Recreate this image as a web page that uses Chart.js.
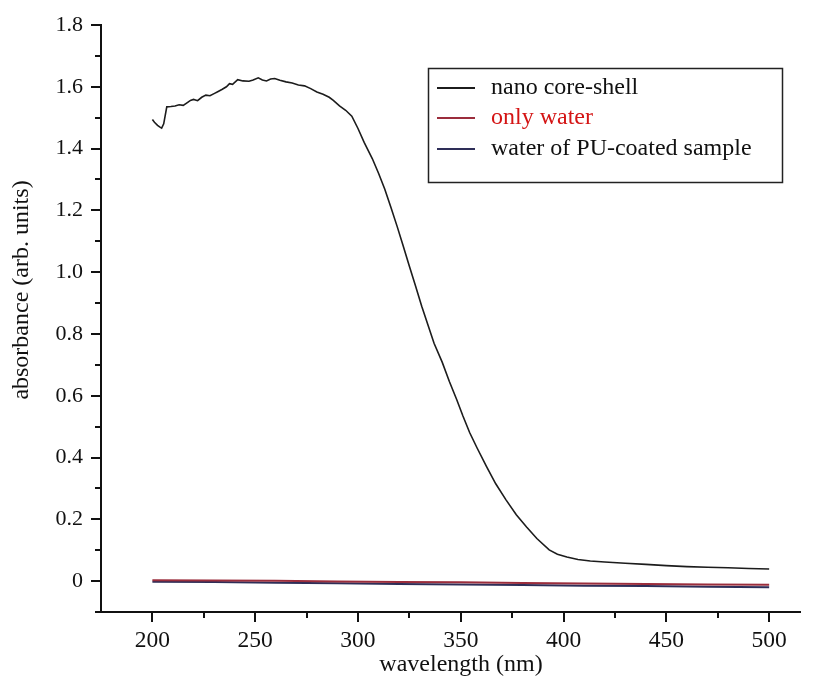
<!DOCTYPE html>
<html>
<head>
<meta charset="utf-8">
<script src="https://cdn.jsdelivr.net/npm/chart.js@4.4.0/dist/chart.umd.min.js"></script>
<style>
  html, body { margin: 0; padding: 0; background: #fff; }
  #wrap { width: 815px; height: 686px; }
</style>
</head>
<body>
<div id="wrap"><canvas id="uvChart"></canvas></div>
<script>
// values
const coreWl = [200, 201, 202.5, 203.5, 204.5, 205.5, 207, 209, 211, 213, 215, 217, 218.5, 220, 222, 224, 226, 228, 230, 232,
  234, 236, 237.5, 239, 241.5, 244, 247, 249, 251.5, 253.5, 255.5, 257.5, 259.5, 262, 265, 268, 271, 274, 277, 280,
  283, 286, 288, 291, 294, 297, 300, 303, 307, 310, 313, 316, 319, 322, 325, 328, 331, 334, 337, 341,
  344.5, 348, 351, 354.3, 358, 362.6, 367, 372, 377, 382, 387, 393, 397, 401.6, 407, 413, 420, 430, 440, 450,
  460, 470, 480, 490, 500];
const coreAbs = [1.494, 1.485, 1.475, 1.47, 1.466, 1.48, 1.535, 1.536, 1.538, 1.542, 1.540, 1.549, 1.556, 1.559, 1.555, 1.566, 1.573, 1.571, 1.578, 1.585,
  1.592, 1.600, 1.610, 1.608, 1.623, 1.619, 1.618, 1.622, 1.629, 1.622, 1.619, 1.625, 1.627, 1.621, 1.616, 1.612, 1.606, 1.603, 1.594, 1.583,
  1.576, 1.566, 1.556, 1.538, 1.524, 1.505, 1.465, 1.42, 1.367, 1.32, 1.269, 1.21, 1.149, 1.085, 1.019, 0.955, 0.89, 0.83, 0.77, 0.708,
  0.645, 0.588, 0.535, 0.481, 0.43, 0.370, 0.315, 0.263, 0.215, 0.175, 0.138, 0.101, 0.087, 0.078, 0.07, 0.065, 0.062, 0.058, 0.054, 0.05,
  0.047, 0.045, 0.043, 0.041, 0.039];
const waterWl = [200, 230, 260, 290, 320, 350, 380, 410, 440, 470, 500];
const waterAbs = [0.003, 0.002, 0.001, -0.001, -0.003, -0.004, -0.006, -0.008, -0.009, -0.011, -0.012];
const puAbs = [-0.002, -0.003, -0.005, -0.007, -0.009, -0.011, -0.013, -0.015, -0.016, -0.018, -0.02];

const seriesNames = ["nano core-shell", "only water", "water of PU-coated sample"];
const xMajorTicks = [200, 250, 300, 350, 400, 450, 500];
const xMinorTicks = [225, 275, 325, 375, 425, 475];
const yMajorTicks = [0, 0.2, 0.4, 0.6, 0.8, 1.0, 1.2, 1.4, 1.6, 1.8];
const yMinorTicks = [-0.1, 0.1, 0.3, 0.5, 0.7, 0.9, 1.1, 1.3, 1.5, 1.7];

const FONT = "'Liberation Serif', 'Times New Roman', serif";

function toPoints(xs, ys) {
  return xs.map((x, i) => ({ x: x, y: ys[i] }));
}

// ticks, axis titles and the boxed legend
const decorPlugin = {
  id: "decor",
  afterDraw(chart) {
    const ctx = chart.ctx;
    const xs = chart.scales.x;
    const ys = chart.scales.y;
    const area = chart.chartArea;
    ctx.save();
    ctx.strokeStyle = "#111";
    ctx.lineWidth = 2;
    ctx.beginPath();
    xMajorTicks.forEach(v => {
      const p = Math.round(xs.getPixelForValue(v));
      ctx.moveTo(p, area.bottom); ctx.lineTo(p, area.bottom + 10);
    });
    xMinorTicks.forEach(v => {
      const p = Math.round(xs.getPixelForValue(v));
      ctx.moveTo(p, area.bottom); ctx.lineTo(p, area.bottom + 6);
    });
    yMajorTicks.forEach(v => {
      const p = Math.round(ys.getPixelForValue(v));
      ctx.moveTo(area.left, p); ctx.lineTo(area.left - 10, p);
    });
    yMinorTicks.forEach(v => {
      const p = Math.round(ys.getPixelForValue(v));
      ctx.moveTo(area.left, p); ctx.lineTo(area.left - 6, p);
    });
    ctx.stroke();

    // axis titles
    ctx.fillStyle = "#111";
    ctx.font = "24px " + FONT;
    ctx.textAlign = "center";
    ctx.textBaseline = "middle";
    ctx.fillText("wavelength (nm)", 461, 665);
    ctx.save();
    ctx.translate(22, 290);
    ctx.rotate(-Math.PI / 2);
    ctx.fillText("absorbance (arb. units)", 0, 0);
    ctx.restore();

    // legend
    ctx.lineWidth = 1.5;
    ctx.strokeStyle = "#222";
    ctx.strokeRect(428.5, 68.5, 354, 114);
    const rowY = [88, 118, 149];
    const textColors = ["#111", "#d41414", "#111"];
    ctx.textAlign = "left";
    ctx.font = "24px " + FONT;
    chart.data.datasets.forEach((ds, i) => {
      ctx.strokeStyle = ds.borderColor;
      ctx.lineWidth = 2;
      ctx.beginPath();
      ctx.moveTo(437, rowY[i]);
      ctx.lineTo(475, rowY[i]);
      ctx.stroke();
      ctx.fillStyle = textColors[i];
      ctx.fillText(ds.label, 491, rowY[i]);
    });
    ctx.restore();
  }
};

const ctx = document.getElementById("uvChart").getContext("2d");

new Chart(ctx, {
  type: "line",
  data: {
    datasets: [
      {
        label: seriesNames[0],
        data: toPoints(coreWl, coreAbs),
        borderColor: "#1c1c1c",
        borderWidth: 1.6,
        pointRadius: 0,
        tension: 0
      },
      {
        label: seriesNames[1],
        data: toPoints(waterWl, waterAbs),
        borderColor: "#9b2d3c",
        borderWidth: 2,
        pointRadius: 0
      },
      {
        label: seriesNames[2],
        data: toPoints(waterWl, puAbs),
        borderColor: "#2e2e58",
        borderWidth: 2,
        pointRadius: 0
      }
    ]
  },
  options: {
    responsive: true,
    maintainAspectRatio: false,
    animation: false,
    events: [],
    layout: { padding: { top: 25, right: 15, left: 0, bottom: 0 } },
    plugins: {
      legend: { display: false },
      tooltip: { enabled: false }
    },
    scales: {
      x: {
        type: "linear",
        min: 175,
        max: 515,
        border: { display: true, color: "#111", width: 2 },
        grid: { drawOnChartArea: false, tickLength: 10, tickColor: "transparent" },
        ticks: {
          stepSize: 50,
          includeBounds: false,
          padding: 5,
          color: "#111",
          font: { family: FONT, size: 23.5 },
          maxRotation: 0
        },
        afterFit(scale) { scale.height = 74; }
      },
      y: {
        type: "linear",
        min: -0.1,
        max: 1.8,
        border: { display: true, color: "#111", width: 2 },
        grid: { drawOnChartArea: false, tickLength: 10, tickColor: "transparent" },
        ticks: {
          stepSize: 0.2,
          includeBounds: false,
          padding: 8,
          color: "#111",
          font: { family: FONT, size: 22 },
          callback: v => Math.abs(v) < 1e-9 ? "0" : v.toFixed(1)
        },
        afterFit(scale) { scale.width = 101; }
      }
    }
  },
  plugins: [decorPlugin]
});
</script>
</body>
</html>
